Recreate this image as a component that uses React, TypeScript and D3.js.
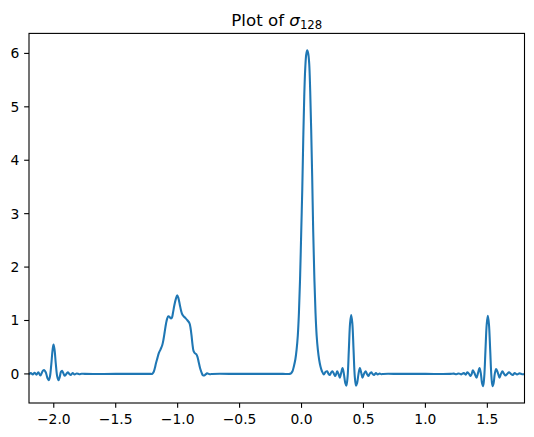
import React from "react";
import * as d3 from "d3";

// ---- data ----
const spikeNeg2: [number, number][] = [
  [-2.2, 0.0], [-2.185, 0.015], [-2.17, -0.01], [-2.155, 0.02], [-2.14, -0.015],
  [-2.125, 0.03], [-2.108, -0.03], [-2.088, 0.06], [-2.076, 0.07], [-2.063, 0.02],
  [-2.051, -0.08], [-2.041, -0.12], [-2.031, -0.05], [-2.02, 0.18], [-2.01, 0.44],
  [-2.002, 0.55], [-1.994, 0.46], [-1.984, 0.2], [-1.972, -0.05], [-1.962, -0.12],
  [-1.952, -0.06], [-1.942, 0.04], [-1.933, 0.06], [-1.922, 0.01], [-1.912, -0.035],
  [-1.9, -0.005], [-1.887, 0.03], [-1.875, 0.0], [-1.862, -0.02], [-1.848, 0.015],
  [-1.832, -0.01], [-1.815, 0.008], [-1.795, -0.005], [-1.775, 0.003], [-1.75, 0.0],
];
const flatA: [number, number][] = [[-1.5, 0.0], [-1.215, 0.0]];
const bumpNeg1: [number, number][] = [
  [-1.205, 0.0], [-1.195, 0.03], [-1.185, 0.1], [-1.175, 0.2], [-1.163, 0.3],
  [-1.152, 0.39], [-1.138, 0.46], [-1.124, 0.54], [-1.114, 0.65], [-1.105, 0.78],
  [-1.094, 0.94], [-1.084, 1.04], [-1.075, 1.08], [-1.066, 1.07], [-1.056, 1.04],
  [-1.047, 1.05], [-1.038, 1.14], [-1.027, 1.28], [-1.015, 1.4], [-1.004, 1.47],
  [-0.994, 1.42], [-0.983, 1.3], [-0.972, 1.18], [-0.962, 1.11], [-0.948, 1.07],
  [-0.935, 1.04], [-0.92, 1.0], [-0.905, 0.95], [-0.896, 0.86], [-0.888, 0.72],
  [-0.88, 0.55], [-0.872, 0.43], [-0.862, 0.39], [-0.85, 0.37], [-0.84, 0.32],
  [-0.83, 0.22], [-0.818, 0.1], [-0.806, 0.02], [-0.796, -0.025], [-0.786, -0.03],
  [-0.775, -0.01], [-0.762, 0.01], [-0.748, 0.0], [-0.735, -0.005], [-0.72, 0.0],
];
const flatB: [number, number][] = [[-0.5, 0.0], [-0.3, 0.0], [-0.15, 0.0]];
const centralPeak: [number, number][] = [
  [-0.1, 0.0], [-0.085, 0.01], [-0.073, 0.05], [-0.062, 0.14], [-0.05, 0.27],
  [-0.04, 0.45], [-0.03, 0.72], [-0.021, 1.14], [-0.011, 1.85], [-0.002, 2.7],
  [0.006, 3.45], [0.014, 4.4], [0.022, 5.2], [0.03, 5.72], [0.038, 5.98],
  [0.046, 6.06], [0.054, 6.0], [0.062, 5.81], [0.07, 5.3], [0.078, 4.57],
  [0.086, 3.7], [0.094, 2.7], [0.103, 1.85], [0.113, 1.14], [0.122, 0.72],
  [0.132, 0.45], [0.142, 0.27], [0.153, 0.14], [0.165, 0.05], [0.18, -0.01],
];
const spike04: [number, number][] = [
  [0.195, 0.04], [0.207, 0.05], [0.218, 0.0], [0.228, -0.02], [0.24, 0.03],
  [0.25, 0.05], [0.262, 0.0], [0.272, -0.04], [0.28, 0.0], [0.288, 0.05],
  [0.298, 0.0], [0.309, -0.07], [0.32, 0.02], [0.331, 0.11], [0.342, 0.0],
  [0.353, -0.17], [0.362, -0.22], [0.372, -0.05], [0.382, 0.45], [0.392, 0.95],
  [0.401, 1.1], [0.41, 0.95], [0.42, 0.45], [0.43, -0.05], [0.44, -0.22],
  [0.449, -0.17], [0.46, 0.0], [0.471, 0.11], [0.482, 0.02], [0.492, -0.07],
  [0.504, 0.0], [0.517, 0.05], [0.528, 0.0], [0.539, -0.04], [0.55, 0.0],
  [0.563, 0.03], [0.574, 0.0], [0.585, -0.02], [0.6, 0.015], [0.615, -0.01],
  [0.63, 0.008], [0.645, -0.005], [0.66, 0.0],
];
const flatC: [number, number][] = [[0.8, 0.0], [1.0, 0.0], [1.2, 0.0]];
const spike15: [number, number][] = [
  [1.23, 0.005], [1.25, -0.005], [1.27, 0.008], [1.29, -0.008], [1.31, 0.015],
  [1.325, -0.015], [1.338, 0.03], [1.352, 0.0], [1.365, -0.04], [1.374, 0.0],
  [1.383, 0.07], [1.395, 0.02], [1.413, -0.07], [1.425, 0.02], [1.437, 0.11],
  [1.448, 0.0], [1.457, -0.17], [1.466, -0.23], [1.475, -0.05], [1.485, 0.45],
  [1.495, 0.93], [1.504, 1.09], [1.513, 0.93], [1.523, 0.45], [1.533, -0.05],
  [1.542, -0.23], [1.551, -0.17], [1.56, 0.0], [1.571, 0.09], [1.585, 0.02],
  [1.598, -0.07], [1.61, 0.0], [1.622, 0.05], [1.635, 0.0], [1.647, -0.03],
  [1.66, 0.0], [1.675, 0.03], [1.69, 0.0], [1.705, -0.02], [1.72, 0.015],
  [1.74, -0.01], [1.76, 0.01], [1.78, -0.005], [1.8, 0.0],
];

const xTicks = [-2.0, -1.5, -1.0, -0.5, 0.0, 0.5, 1.0, 1.5];
const yTicks = [0, 1, 2, 3, 4, 5, 6];
const xLimits: [number, number] = [-2.2, 1.8];

const W = 534;
const H = 437;
const M = { left: 29, right: 524.5, top: 33.4, bottom: 403 };

export default function App() {
  const data = [
    ...spikeNeg2, ...flatA, ...bumpNeg1, ...flatB, ...centralPeak,
    ...spike04, ...flatC, ...spike15,
  ];
  const [ymin, ymax] = d3.extent(data, (d) => d[1]) as [number, number];
  const pad = (ymax - ymin) * 0.05;
  const x = d3.scaleLinear().domain(xLimits).range([M.left, M.right]);
  const y = d3.scaleLinear().domain([ymin - pad, ymax + pad]).range([M.bottom, M.top]);
  const line = d3
    .line<[number, number]>()
    .x((d) => x(d[0]))
    .y((d) => y(d[1]))
    .curve(d3.curveCatmullRom.alpha(0.5));
  const fmt = (v: number) => v.toFixed(1).replace("-", "\u2212");
  const font = "'DejaVu Sans', sans-serif";
  const tickLen = 4.86;
  return (
    <svg
      width={W}
      height={H}
      style={{ position: "absolute", left: 0, top: 0, background: "#fff" }}
      fontFamily={font}
    >
      <defs>
        <clipPath id="plotclip">
          <rect x={M.left} y={M.top} width={M.right - M.left} height={M.bottom - M.top} />
        </clipPath>
      </defs>
      <rect x={0} y={0} width={W} height={H} fill="#fff" />
      <path
        d={line(data) || ""}
        fill="none"
        stroke="#1f77b4"
        strokeWidth={2.08}
        strokeLinejoin="round"
        strokeLinecap="square"
        clipPath="url(#plotclip)"
      />
      <rect
        x={M.left}
        y={M.top}
        width={M.right - M.left}
        height={M.bottom - M.top}
        fill="none"
        stroke="#000"
        strokeWidth={1.1}
      />
      {xTicks.map((t) => (
        <g key={"x" + t}>
          <line x1={x(t)} x2={x(t)} y1={M.bottom} y2={M.bottom + tickLen} stroke="#000" strokeWidth={1.1} />
          <text x={x(t)} y={M.bottom + 20.5} textAnchor="middle" fontSize={13.89} fill="#000">
            {fmt(t)}
          </text>
        </g>
      ))}
      {yTicks.map((t) => (
        <g key={"y" + t}>
          <line x1={M.left - tickLen} x2={M.left} y1={y(t)} y2={y(t)} stroke="#000" strokeWidth={1.1} />
          <text x={M.left - 9.7} y={y(t) + 5} textAnchor="end" fontSize={13.89} fill="#000">
            {String(t)}
          </text>
        </g>
      ))}
      <text x={(M.left + M.right) / 2} y={25.5} textAnchor="middle" fontSize={16.67} fill="#000">
        Plot of <tspan fontStyle="italic">σ</tspan>
        <tspan fontSize={11.7} dy={3}>128</tspan>
      </text>
    </svg>
  );
}
